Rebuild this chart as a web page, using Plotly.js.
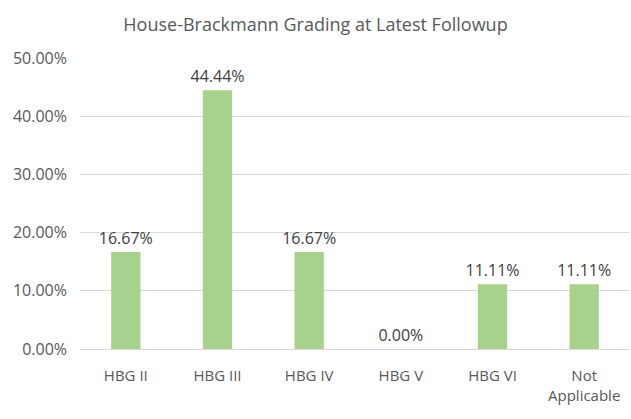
<!DOCTYPE html>
<html><head><meta charset="utf-8">
<script src="https://cdn.plot.ly/plotly-3.0.1.min.js"></script>
<style>body{margin:0;background:#fff}#c{width:631px;height:419px}</style>
</head><body><div id="c"></div>
<script>
const categories = ["HBG II","HBG III","HBG IV","HBG V","HBG VI","Not<br>Applicable"];
const values = [0.1667, 0.4444, 0.1667, 0.0, 0.1111, 0.1111];
const yTicks = [0, 0.1, 0.2, 0.3, 0.4, 0.5];

Plotly.newPlot('c', [{
  type: 'bar', x: categories, y: values,
  marker: {color: '#a9d18e'},
  width: 0.32,
  text: values.map(v => (v*100).toFixed(2) + '%'),
  textposition: 'outside',
  constraintext: 'none',
  textfont: {family: 'Open Sans, sans-serif', size: 16, color: '#404040'},
  cliponaxis: false,
  hoverinfo: 'none'
}], {
  width: 631, height: 419,
  margin: {l: 80, r: 1, t: 58, b: 70},
  paper_bgcolor: '#fff', plot_bgcolor: '#fff',
  title: {text: 'House-Brackmann Grading at Latest Followup', x: 0.5, xanchor: 'center', y: 0.94, yanchor: 'middle',
          font: {family: 'Open Sans, sans-serif', size: 18, color: '#595959'}},
  xaxis: {showgrid: false, showline: false, zeroline: false, ticks: '', ticklabelstandoff: 16,
          tickfont: {family: 'Open Sans, sans-serif', size: 15, color: '#595959'}},
  yaxis: {range: [0, 0.5], tickvals: yTicks, tickformat: '.2%', showgrid: true, gridcolor: '#d9d9d9', gridwidth: 1,
          zeroline: true, zerolinecolor: '#d9d9d9', zerolinewidth: 1, showline: false, ticks: '', ticklabelstandoff: 12,
          tickfont: {family: 'Open Sans, sans-serif', size: 16, color: '#595959'}},
  showlegend: false
}, {staticPlot: true});
</script></body></html>
